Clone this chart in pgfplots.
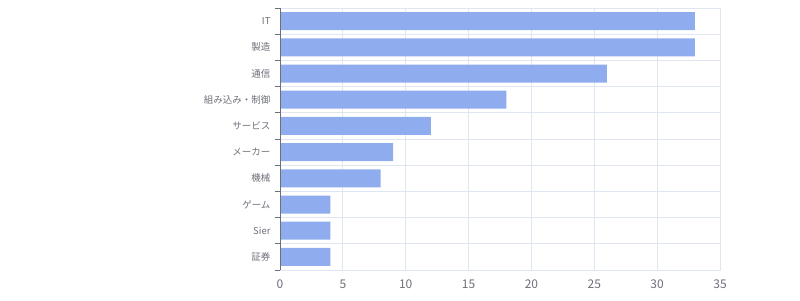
\documentclass[border=0pt]{standalone}
\usepackage{pgfplots}
\pgfplotsset{compat=1.18}
\usepackage{fontspec}
\setmainfont{Noto Sans CJK JP}
\definecolor{txt}{HTML}{6E7079}
\definecolor{gridc}{HTML}{E0E6F1}
\definecolor{barc}{HTML}{8FADEE}
\begin{document}
\begin{tikzpicture}[x=1pt,y=1pt]
\path[use as bounding box] (0,0) rectangle (800,300);
\begin{axis}[
  at={(280pt,30pt)}, anchor=south west,
  scale only axis, width=440pt, height=262pt,
  xmin=0, xmax=35, ymin=-0.5, ymax=9.5, y dir=reverse,
  xtick={0,5,...,35},
  ytick={0,...,9},
  yticklabels={IT,製造,通信,組み込み・制御,サービス,メーカー,機械,ゲーム,Sier,証券},
  minor ytick={-0.5,0.5,...,9.5},
  ytick pos=left, xtick pos=bottom,
  major tick length=0pt,
  minor tick length=5pt,
  tick align=outside,
  xmajorgrids, yminorgrids,
  grid style={gridc, line width=0.8pt},
  minor grid style={gridc, line width=0.8pt},
  minor tick style={txt, line width=0.8pt},
  axis line style={gridc, line width=0.8pt},
  ticklabel style={txt},
  yticklabel style={font=\fontsize{9.5}{10}\selectfont, xshift=-6pt},
  xticklabel style={font=\fontsize{12}{13}\selectfont, yshift=-6pt},
  /pgf/number format/assume math mode=true,
  xbar, bar width=18pt, bar shift=0pt,
  clip=false,
]
\addplot[fill=barc, draw=none] coordinates {
(33,0) (33,1) (26,2) (18,3) (12,4) (9,5) (8,6) (4,7) (4,8) (4,9)};
\draw[txt, line width=0.8pt] (rel axis cs:0,0) -- (rel axis cs:0,1);
\end{axis}
\end{tikzpicture}
\end{document}
